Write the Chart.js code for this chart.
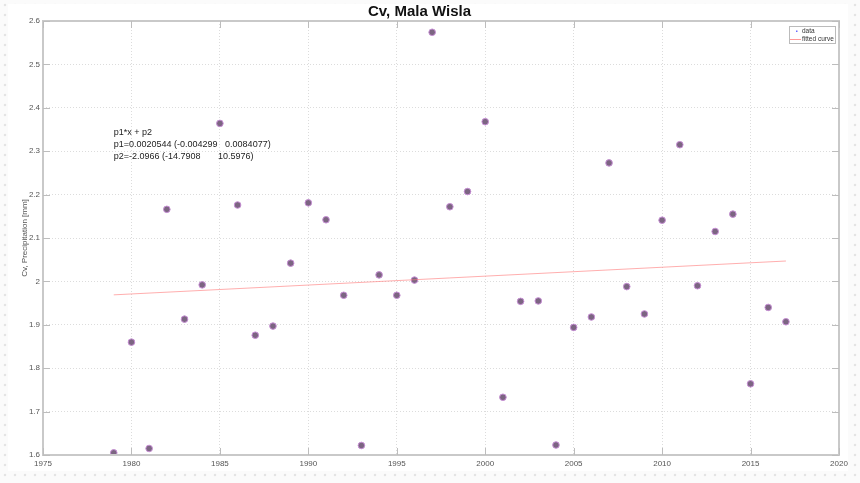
<!DOCTYPE html>
<html>
<head>
<meta charset="utf-8">
<script src="https://cdn.jsdelivr.net/npm/chart.js@4"></script>
<style>
  html, body { margin: 0; padding: 0; }
  body {
    width: 860px; height: 483px; overflow: hidden; position: relative;
    background-color: #fbfbfb;
    background-image: radial-gradient(#e4e4e4 1.4px, transparent 1.6px);
    background-size: 10px 10px;
  }
  #frame {
    position: absolute; left: 8px; top: 4px; width: 840px; height: 467px;
    background: #fff; overflow: hidden;
  }
  #wrap { position: absolute; left: -8px; top: -4px; width: 860px; height: 483px; }
</style>
</head>
<body>
<div id="frame"><div id="wrap"><canvas id="cvChart"></canvas></div></div>
<script>
var years = [1979, 1980, 1981, 1982, 1983, 1984, 1985, 1986, 1987, 1988,
             1989, 1990, 1991, 1992, 1993, 1994, 1995, 1996, 1997, 1998,
             1999, 2000, 2001, 2002, 2003, 2004, 2005, 2006, 2007, 2008,
             2009, 2010, 2011, 2012, 2013, 2014, 2015, 2016, 2017];
var cvValues = [1.605, 1.860, 1.615, 2.166, 1.913, 1.992, 2.364, 2.176, 1.876, 1.897,
                2.042, 2.181, 2.142, 1.968, 1.622, 2.015, 1.968, 2.003, 2.574, 2.172,
                2.207, 2.368, 1.733, 1.954, 1.955, 1.623, 1.894, 1.918, 2.273, 1.988,
                1.925, 2.141, 2.315, 1.990, 2.115, 2.155, 1.764, 1.940, 1.907];
var fitYears = [1979, 2017];
var fitValues = [1.969, 2.047];
var fitText = ['p1*x + p2',
               'p1=0.0020544 (-0.004299   0.0084077)',
               'p2=-2.0966 (-14.7908       10.5976)'];
var xTicks = [1975, 1980, 1985, 1990, 1995, 2000, 2005, 2010, 2015, 2020];

var axisGray = '#c9c9c9';

// MATLAB style box, inward ticks, fit annotation and legend
var matlabBox = {
  id: 'matlabBox',
  afterDatasetsDraw: function(chart) {
    var ctx = chart.ctx, a = chart.chartArea;
    var xs = chart.scales.x, ys = chart.scales.y;
    ctx.save();
    ctx.strokeStyle = axisGray;
    ctx.lineWidth = 2;
    ctx.strokeRect(a.left, a.top, a.right - a.left, a.bottom - a.top);
    ctx.lineWidth = 1;
    ctx.strokeStyle = '#bdbdbd';
    ctx.beginPath();
    xs.ticks.forEach(function(t) {
      var px = Math.round(xs.getPixelForValue(t.value)) + 0.5;
      ctx.moveTo(px, a.bottom); ctx.lineTo(px, a.bottom - 7);
      ctx.moveTo(px, a.top); ctx.lineTo(px, a.top + 7);
    });
    ys.ticks.forEach(function(t) {
      var py = Math.round(ys.getPixelForValue(t.value)) + 0.5;
      ctx.moveTo(a.left, py); ctx.lineTo(a.left + 7, py);
      ctx.moveTo(a.right, py); ctx.lineTo(a.right - 7, py);
    });
    ctx.stroke();

    // fit annotation
    ctx.fillStyle = '#222';
    ctx.font = '9px "Liberation Sans", Arial, sans-serif';
    ctx.textBaseline = 'middle';
    ctx.textAlign = 'left';
    var tx = xs.getPixelForValue(1979);
    var ty = ys.getPixelForValue(2.342);
    fitText.forEach(function(s, i) { ctx.fillText(s, tx, ty + i * 12); });

    // legend
    var lx = a.right - 50, ly = a.top + 5, lw = 46, lh = 17;
    ctx.fillStyle = '#fff';
    ctx.fillRect(lx, ly, lw, lh);
    ctx.strokeStyle = '#bbb';
    ctx.lineWidth = 1;
    ctx.strokeRect(lx + 0.5, ly + 0.5, lw, lh);
    ctx.font = '6.5px "Liberation Sans", Arial, sans-serif';
    ctx.fillStyle = '#333';
    var ds = chart.data.datasets;
    ctx.fillText(ds[0].label, lx + 13, ly + 5);
    ctx.fillText(ds[1].label, lx + 13, ly + 13);
    ctx.fillStyle = '#6a6aff';
    ctx.fillRect(lx + 7, ly + 4.5, 1.5, 1.5);
    ctx.strokeStyle = 'rgba(255,110,110,0.7)';
    ctx.beginPath();
    ctx.moveTo(lx + 1, ly + 13.5); ctx.lineTo(lx + 12, ly + 13.5);
    ctx.stroke();
    ctx.restore();
  }
};

var ctx = document.getElementById('cvChart').getContext('2d');
var cvChart = new Chart(ctx, {
  type: 'scatter',
  data: {
    datasets: [
      {
        label: 'data',
        data: years.map(function(y, i) { return { x: y, y: cvValues[i] }; }),
        backgroundColor: '#7c6582',
        borderColor: '#c68ed4',
        borderWidth: 1,
        pointRadius: 3.3,
        order: 1
      },
      {
        label: 'fitted curve',
        type: 'line',
        data: fitYears.map(function(y, i) { return { x: y, y: fitValues[i] }; }),
        borderColor: 'rgba(255,120,120,0.6)',
        borderWidth: 1,
        pointRadius: 0,
        fill: false,
        order: 0
      }
    ]
  },
  options: {
    responsive: true,
    maintainAspectRatio: false,
    animation: false,
    layout: { padding: { left: 0, right: 21, top: 0, bottom: 0 } },
    plugins: {
      legend: { display: false },
      tooltip: { enabled: false },
      title: {
        display: true,
        text: 'Cv, Mala Wisla',
        color: '#111',
        font: { family: '"Liberation Sans", Arial, sans-serif', size: 15, weight: 'bold' },
        padding: { top: 3, bottom: 0 }
      }
    },
    scales: {
      x: {
        type: 'linear',
        min: 1975,
        max: 2020,
        afterBuildTicks: function(s) { s.ticks = xTicks.map(function(v) { return { value: v }; }); },
        afterFit: function(s) { s.height = 28; },
        grid: { color: '#dcdcdc', lineWidth: 1, drawTicks: false },
        border: { display: false, dash: [1, 2] },
        ticks: {
          padding: 4,
          color: '#555',
          font: { family: '"Liberation Sans", Arial, sans-serif', size: 8 },
          callback: function(v) { return String(v); },
          maxRotation: 0
        },
        title: {
          display: true,
          text: 'Year',
          color: '#555',
          font: { family: '"Liberation Sans", Arial, sans-serif', size: 8 },
          padding: { top: 1, bottom: 0 }
        }
      },
      y: {
        min: 1.6,
        max: 2.6,
        afterFit: function(s) { s.width = 43; },
        grid: { color: '#dcdcdc', lineWidth: 1, drawTicks: false },
        border: { display: false, dash: [1, 2] },
        ticks: {
          stepSize: 0.1,
          padding: 3,
          color: '#555',
          font: { family: '"Liberation Sans", Arial, sans-serif', size: 8 },
          callback: function(v) { return String(+v.toFixed(1)); }
        },
        title: {
          display: true,
          text: 'Cv, Precipitation [mm]',
          color: '#555',
          font: { family: '"Liberation Sans", Arial, sans-serif', size: 8 },
          padding: { top: 20, bottom: 0 }
        }
      }
    }
  },
  plugins: [matlabBox]
});
</script>
</body>
</html>
